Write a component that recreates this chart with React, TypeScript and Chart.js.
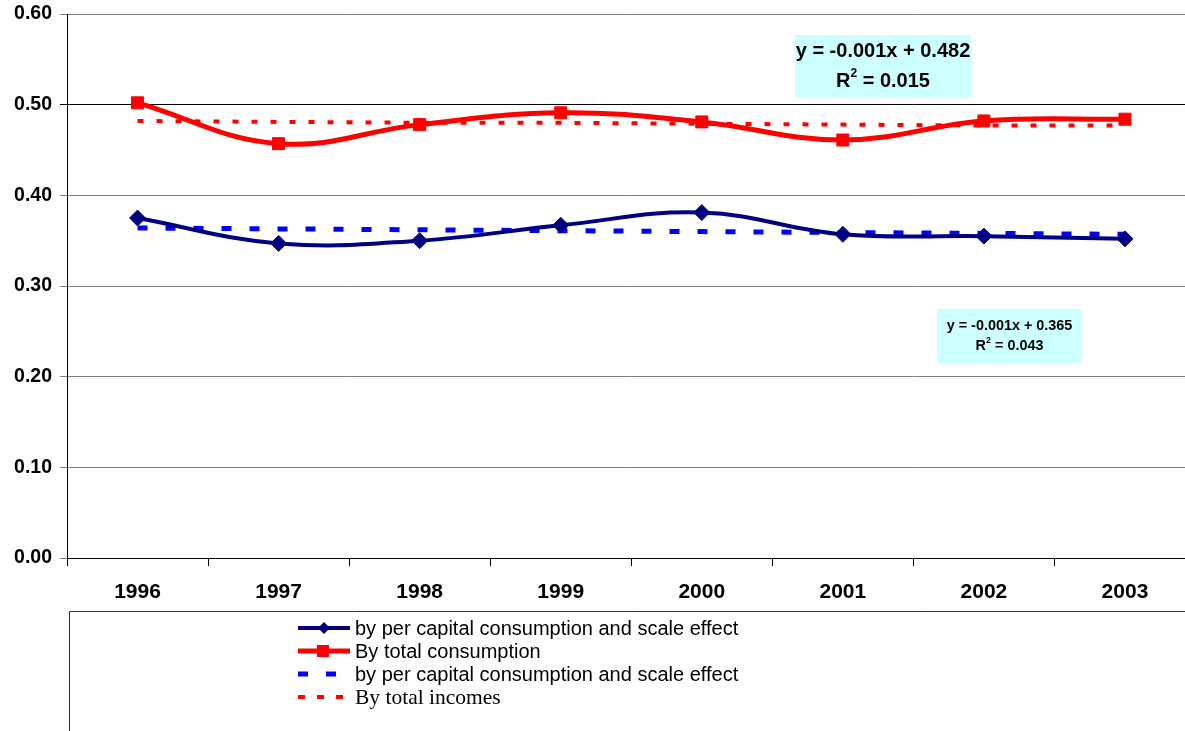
import React, { useEffect, useRef } from "react";
import { Chart, registerables } from "chart.js";

Chart.register(...registerables);

const categories = ["1996", "1997", "1998", "1999", "2000", "2001", "2002", "2003"];
const perCapitaScale = [0.375, 0.347, 0.350, 0.367, 0.381, 0.357, 0.355, 0.352];
const totalConsumption = [0.502, 0.457, 0.478, 0.491, 0.481, 0.461, 0.482, 0.484];
const perCapitaTrend = [0.364, 0.363, 0.362, 0.361, 0.360, 0.359, 0.358, 0.357];
const totalIncomesTrend = [0.482, 0.481, 0.480, 0.480, 0.479, 0.478, 0.477, 0.477];
const legendLabels = [
  "by per capital consumption and scale effect",
  "By total consumption",
  "by per capital consumption and scale effect",
  "By total incomes",
];
const redEquation = ["y = -0.001x + 0.482", "R", " = 0.015"];
const blueEquation = ["y = -0.001x + 0.365", "R", " = 0.043"];

const SANS = "'Liberation Sans', Arial, sans-serif";
const SERIF = "'Liberation Serif', 'Times New Roman', serif";

const overlayPlugin = {
  id: "overlay",
  afterDraw(chart: any) {
    const ctx = chart.ctx as CanvasRenderingContext2D;
    ctx.save();

    // Equation boxes
    const drawBox = (
      x: number, y: number, w: number, h: number, lines: string[], size: number, l1: number, l2: number
    ) => {
      ctx.fillStyle = "#ccffff";
      ctx.fillRect(x, y, w, h);
      ctx.fillStyle = "#000";
      ctx.font = `bold ${size}px ${SANS}`;
      ctx.textBaseline = "middle";
      ctx.textAlign = "center";
      ctx.fillText(lines[0], x + w / 2, y + l1);
      const rW = ctx.measureText(lines[1]).width;
      const restW = ctx.measureText(lines[2]).width;
      ctx.font = `bold ${Math.round(size * 0.6)}px ${SANS}`;
      const supW = ctx.measureText("2").width;
      const total = rW + supW + restW;
      let sx = x + w / 2 - total / 2;
      ctx.textAlign = "left";
      ctx.font = `bold ${size}px ${SANS}`;
      ctx.fillText(lines[1], sx, y + l2);
      sx += rW;
      ctx.font = `bold ${Math.round(size * 0.6)}px ${SANS}`;
      ctx.fillText("2", sx, y + l2 - size * 0.35);
      sx += supW;
      ctx.font = `bold ${size}px ${SANS}`;
      ctx.fillText(lines[2], sx, y + l2);
    };
    drawBox(795, 35, 176, 62, redEquation, 20, 16, 46);
    drawBox(937, 309, 145, 54, blueEquation, 14.4, 17, 37);

    // Legend box
    ctx.strokeStyle = "#333";
    ctx.lineWidth = 1;
    ctx.beginPath();
    ctx.moveTo(69.5, 740);
    ctx.lineTo(69.5, 611.5);
    ctx.lineTo(chart.width, 611.5);
    ctx.stroke();

    const x0 = 298;
    const x1 = 350;
    const rows = [628, 651, 674, 697];
    // row 1: navy line with diamond
    ctx.strokeStyle = "#000080";
    ctx.lineWidth = 4;
    ctx.setLineDash([]);
    ctx.beginPath();
    ctx.moveTo(x0, rows[0]);
    ctx.lineTo(x1, rows[0]);
    ctx.stroke();
    ctx.fillStyle = "#000080";
    ctx.beginPath();
    ctx.moveTo(324 - 6, rows[0]);
    ctx.lineTo(324, rows[0] - 6);
    ctx.lineTo(324 + 6, rows[0]);
    ctx.lineTo(324, rows[0] + 6);
    ctx.closePath();
    ctx.fill();
    // row 2: red line with square
    ctx.strokeStyle = "#ff0000";
    ctx.lineWidth = 5;
    ctx.beginPath();
    ctx.moveTo(x0, rows[1]);
    ctx.lineTo(x1, rows[1]);
    ctx.stroke();
    ctx.fillStyle = "#ff0000";
    ctx.fillRect(317, rows[1] - 6, 12, 12);
    // row 3: blue dashes
    ctx.fillStyle = "#0000ff";
    ctx.fillRect(298, rows[2] - 2.5, 10, 5);
    ctx.fillRect(326, rows[2] - 2.5, 10, 5);
    // row 4: red dots
    ctx.fillStyle = "#ff0000";
    ctx.fillRect(298, rows[3] - 2, 7, 4);
    ctx.fillRect(317, rows[3] - 2, 7, 4);
    ctx.fillRect(336, rows[3] - 2, 7, 4);

    ctx.fillStyle = "#000";
    ctx.textAlign = "left";
    ctx.textBaseline = "middle";
    legendLabels.forEach((t, i) => {
      ctx.font = i === 3 ? `21.5px ${SERIF}` : `20px ${SANS}`;
      ctx.fillText(t, 355, rows[i] + 1);
    });

    ctx.restore();
  },
};

export default function App() {
  const ref = useRef<HTMLCanvasElement | null>(null);

  useEffect(() => {
    document.body.style.margin = "0";
    document.body.style.overflow = "hidden";
    const canvas = ref.current;
    if (!canvas) return;
    const chart = new Chart(canvas, {
      type: "line",
      data: {
        labels: categories,
        datasets: [
          {
            label: legendLabels[0],
            data: perCapitaScale,
            borderColor: "#000080",
            backgroundColor: "#000080",
            borderWidth: 4,
            tension: 0.4,
            pointStyle: "rectRot",
            pointRadius: 8,
            pointBorderWidth: 1,
            order: 1,
          },
          {
            label: legendLabels[1],
            data: totalConsumption,
            borderColor: "#ff0000",
            backgroundColor: "#ff0000",
            borderWidth: 5,
            tension: 0.4,
            pointStyle: "rect",
            pointRadius: 8.5,
            pointBorderWidth: 1,
            order: 0,
          },
          {
            label: legendLabels[2],
            data: perCapitaTrend,
            borderColor: "#0000ff",
            borderWidth: 5,
            borderDash: [10, 18],
            borderCapStyle: "butt",
            pointRadius: 0,
            tension: 0,
            order: 3,
          },
          {
            label: legendLabels[3],
            data: totalIncomesTrend,
            borderColor: "#ff0000",
            borderWidth: 4,
            borderDash: [6, 13],
            borderCapStyle: "butt",
            pointRadius: 0,
            tension: 0,
            order: 2,
          },
        ],
      },
      options: {
        responsive: false,
        animation: false,
        devicePixelRatio: 1,
        layout: { padding: { top: 14, left: 0, right: 0, bottom: 0 } },
        plugins: {
          legend: { display: false },
          tooltip: { enabled: false },
        },
        scales: {
          x: {
            offset: true,
            grid: {
              offset: true,
              drawOnChartArea: false,
              drawTicks: true,
              tickLength: 8,
              color: "#000",
            },
            border: { color: "#000", width: 1 },
            ticks: {
              color: "#000",
              padding: 14,
              font: { family: SANS, size: 21, weight: "bold" },
              maxRotation: 0,
            },
            afterFit: (scale: any) => {
              scale.height = 731 - 558;
              scale.paddingLeft = 0;
              scale.paddingRight = 0;
            },
          },
          y: {
            min: 0,
            max: 0.6,
            ticks: {
              stepSize: 0.1,
              color: "#000",
              padding: 8,
              font: { family: SANS, size: 19.5, weight: "bold" },
              callback: (v: any) => Number(v).toFixed(2),
            },
            grid: {
              tickLength: 7,
              color: (c: any) =>
                c.tick && Math.abs(c.tick.value - 0.5) < 1e-6 ? "#000" : "#808080",
            },
            border: { color: "#000", width: 1 },
            afterFit: (scale: any) => {
              scale.width = 67;
              scale.paddingTop = 0;
              scale.paddingBottom = 0;
            },
          },
        },
      },
      plugins: [overlayPlugin],
    } as any);
    return () => chart.destroy();
  }, []);

  return (
    <div style={{ position: "absolute", left: 0, top: 0, width: 1185, height: 731, overflow: "hidden", background: "#fff" }}>
      <canvas ref={ref} width={1205} height={731} style={{ display: "block", width: 1205, height: 731 }} />
    </div>
  );
}
